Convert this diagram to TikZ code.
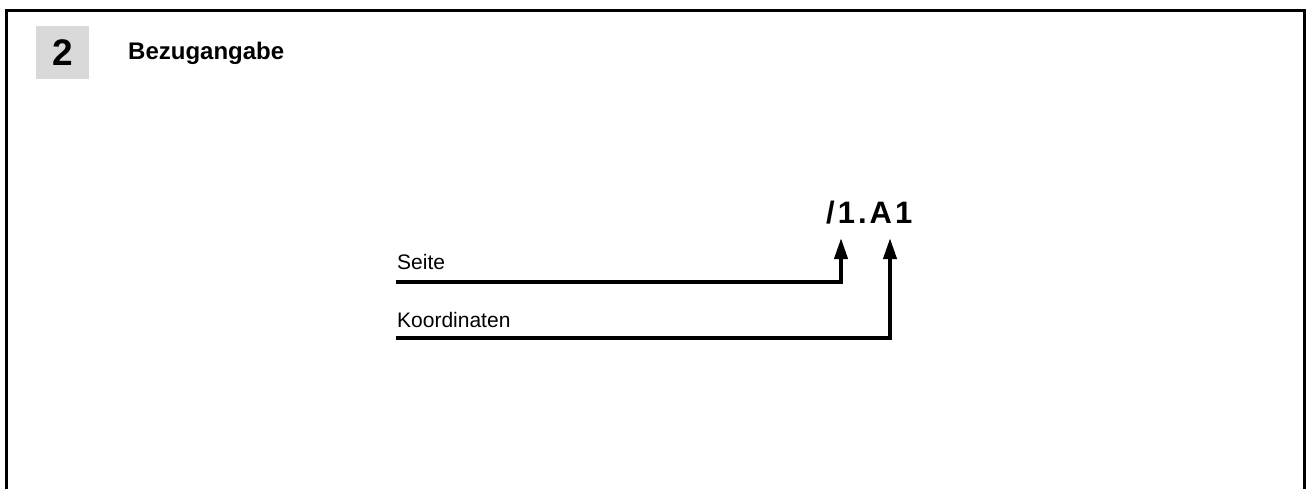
\documentclass[tikz,border=0pt]{standalone}
\usepackage{fontspec}
\setmainfont{Liberation Sans}
\usetikzlibrary{arrows.meta}
\definecolor{boxgray}{HTML}{D9D9D9}
\tikzset{
  frame/.style={line width=3pt, line cap=rect},
  lbl/.style={inner sep=0pt, anchor=base west, font=\fontsize{21}{24}\selectfont},
  conn/.style={line width=4pt, -{Triangle[length=21pt,width=13pt]}},
}
\begin{document}
\begin{tikzpicture}[x=1pt,y=-1pt]
\useasboundingbox (0,0) rectangle (1308,488);
\draw[frame] (6,495) -- (6,10) -- (1304,10) -- (1304,495);
\fill[boxgray] (36,26) rectangle (89,79);
\node[inner sep=0pt, anchor=base, font=\fontsize{37}{42}\selectfont\bfseries] (num) at (62.5,65) {2};
\node[inner sep=0pt, anchor=base west, font=\fontsize{24}{28}\selectfont\bfseries] (title) at (128,59.5) {Bezugangabe};
\node[inner sep=0pt, anchor=base west, font=\fontsize{31}{36}\selectfont\bfseries] (ref) at (826,223) {/\hspace{3pt}1\hspace{3pt}.\hspace{3pt}A\hspace{3pt}1};
\node[lbl] (seite) at (397,269) {Seite};
\node[lbl] (koord) at (397,327) {Koordinaten};
\coordinate (s0) at (396,282);
\coordinate (k0) at (396,338);
\coordinate (ts) at (841,238);
\coordinate (tk) at (890,238);
\draw[conn] (s0) -| (ts);
\draw[conn] (k0) -| (tk);
\end{tikzpicture}
\end{document}
